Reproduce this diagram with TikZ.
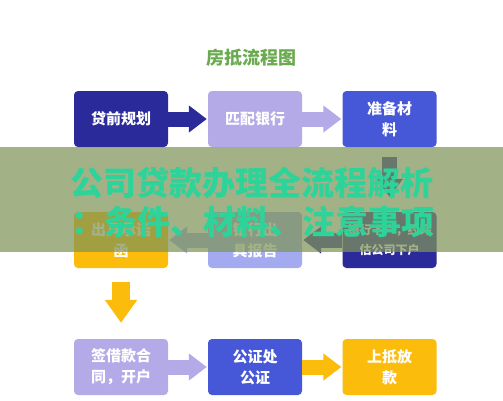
\documentclass[tikz,border=0pt]{standalone}
\usepackage{fontspec}
\setmainfont{Noto Sans CJK SC}
\usetikzlibrary{arrows.meta}
\definecolor{navy}{RGB}{43,42,155}
\definecolor{lpurple}{RGB}{180,170,232}
\definecolor{mblue}{RGB}{70,88,216}
\definecolor{myellow}{RGB}{251,188,11}
\definecolor{peri}{RGB}{163,170,240}
\definecolor{tgreen}{RGB}{107,171,79}
\definecolor{bandc}{RGB}{128,148,89}
\definecolor{teal}{RGB}{46,211,154}
\tikzset{
  box/.style={rounded corners=4pt, minimum width=94pt, minimum height=56pt, inner sep=0pt,
    text=white, align=center, font=\fontsize{15}{21}\selectfont\bfseries},
  fat/.style={line width=15pt, -{Triangle[length=18pt,width=26pt]}},
  fatdown/.style={line width=18pt, -{Triangle[length=23pt,width=31pt]}},
}
\begin{document}
\begin{tikzpicture}[x=1pt,y=-1pt]
\useasboundingbox (0,0) rectangle (503,400);
\fill[white] (0,0) rectangle (503,400);
\node[font=\fontsize{18}{20}\selectfont\bfseries, text=tgreen] (title) at (251,58) {房抵流程图};
% row 1
\node[box, fill=navy]   (a1) at (121,119)   {贷前规划};
\node[box, fill=lpurple] (a2) at (255,119)  {匹配银行};
\node[box, fill=mblue]  (a3) at (389.5,119) {准备材\\料};
% row 2
\node[box, fill=myellow] (b1) at (121,240)  {出具承诺\\函};
\node[box, fill=peri]    (b2) at (255,240)  {银行出\\具报告};
\node[box, fill=navy, font=\fontsize{12}{20}\selectfont\bfseries] (b3) at (389.5,240) {银行下户，约评\\估公司下户};
% row 3
\node[box, fill=lpurple] (c1) at (121,367)  {签借款合\\同，开户};
\node[box, fill=mblue]   (c2) at (255,367)  {公证处\\公证};
\node[box, fill=myellow] (c3) at (389.5,367) {上抵放\\款};
% arrows
\draw[fat, navy, shorten >=1pt] (a1) -- (a2);
\draw[fat, lpurple, shorten >=1pt] (a2) -- (a3);
\draw[fat, navy, shorten <=10pt, shorten >=15pt] (a3) -- (b3);
\draw[fat, navy, shorten >=1pt] (b3) -- (b2);
\draw[fat, peri, shorten >=1pt] (b2) -- (b1);
\draw[fatdown, myellow, shorten <=14pt, shorten >=16pt] (b1) -- (c1);
\draw[fat, lpurple, shorten >=1pt] (c1) -- (c2);
\draw[fat, myellow, shorten >=1pt] (c2) -- (c3);
% overlay band
\fill[bandc, opacity=0.72] (0,147) rectangle (503,252);
\node[font=\fontsize{33}{36}\selectfont\bfseries, text=teal] (h1) at (252,183) {公司贷款办理全流程解析};
\node[font=\fontsize{33}{36}\selectfont\bfseries, text=teal] (h2) at (253,222) {：条件、材料、注意事项};
\end{tikzpicture}
\end{document}
